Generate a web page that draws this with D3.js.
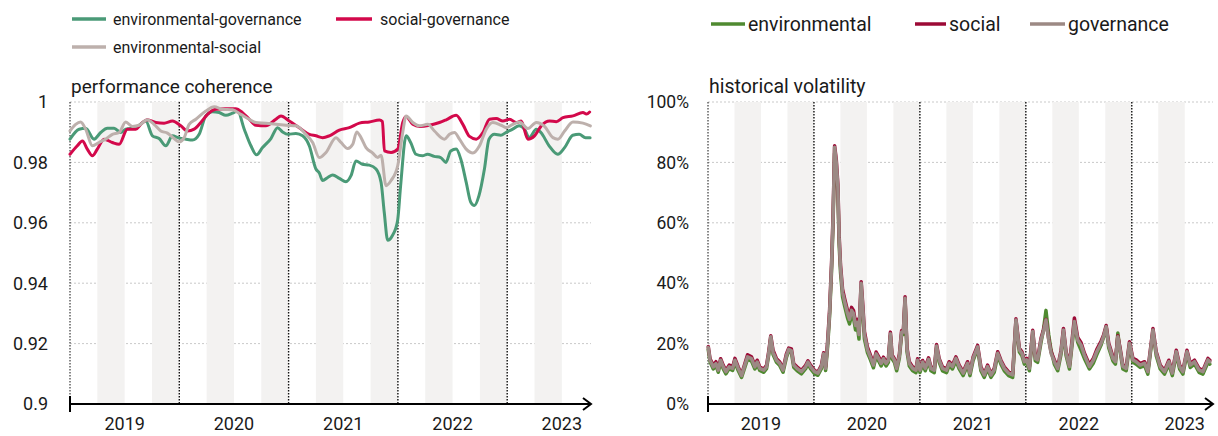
<!DOCTYPE html>
<html><head><meta charset="utf-8">
<script src="https://cdn.jsdelivr.net/npm/d3@7"></script>
<style>
body{margin:0;background:#fff;}
svg text{font-family:"Roboto","Liberation Sans",sans-serif;fill:#1a1a1a;}
</style>
</head><body>
<svg id="c" width="1218" height="436"></svg>
<script>
// ---------- DATA (time in months since Jan 2019) ----------
const yearLabels = ["2019","2020","2021","2022","2023"];
const yearStarts = [0, 12, 24, 36, 48];
const shadedBands = [[3,6],[9,12],[15,18],[21,24],[27,30],[33,36],[39,42],[45,48],[51,54]];

const cohTicks = [0.9, 0.92, 0.94, 0.96, 0.98, 1];
const cohTickLabels = ["0.9","0.92","0.94","0.96","0.98","1"];
const volTicks = [0, 20, 40, 60, 80, 100];
const volTickLabels = ["0%","20%","40%","60%","80%","100%"];

const envGov = [[0,0.9877],[1.0,0.9910],[1.72,0.9913],[2.64,0.9877],[3.37,0.9899],[4.1,0.9913],[4.84,0.9913],[5.57,0.9899],[6.12,0.9910],[7.22,0.9915],[8.32,0.9937],[9.05,0.9888],[9.78,0.9879],[10.52,0.9855],[11.25,0.9888],[11.87,0.9882],[12.72,0.9877],[13.45,0.9874],[14.18,0.9893],[14.91,0.9954],[15.65,0.9968],[16.38,0.9965],[17.11,0.9956],[17.85,0.9963],[18.4,0.9970],[19.13,0.9910],[19.86,0.9855],[20.48,0.9825],[21.14,0.9849],[22.06,0.9879],[22.79,0.9915],[23.34,0.9901],[23.96,0.9893],[24.8,0.9896],[25.54,0.9888],[26.27,0.9855],[27.0,0.9778],[27.37,0.9765],[27.74,0.9740],[28.3,0.9750],[28.84,0.9758],[29.57,0.9747],[30.3,0.9736],[30.85,0.9756],[31.4,0.9805],[32.1,0.9794],[32.86,0.9791],[33.6,0.9778],[34.15,0.9734],[34.5,0.9635],[34.88,0.9542],[35.4,0.9558],[35.97,0.9608],[36.3,0.9723],[36.9,0.9888],[37.4,0.9866],[37.98,0.9827],[38.7,0.9822],[39.25,0.9827],[39.98,0.9820],[40.7,0.9816],[41.27,0.9800],[41.8,0.9838],[42.4,0.9844],[42.9,0.9811],[43.5,0.9734],[44.0,0.9668],[44.4,0.9657],[44.9,0.9690],[45.5,0.9778],[46.0,0.9877],[46.6,0.9893],[47.3,0.9890],[47.86,0.9899],[48.6,0.9910],[49.3,0.9921],[49.9,0.9910],[50.4,0.9882],[51.2,0.9910],[51.7,0.9899],[52.6,0.9855],[53.55,0.9827],[54.3,0.9849],[55.2,0.9890],[55.9,0.9893],[56.6,0.9882],[57.1,0.9882]];

const socGov = [[0,0.9827],[0.8,0.9855],[1.36,0.9871],[1.9,0.9844],[2.46,0.9822],[3.0,0.9844],[3.74,0.9877],[4.65,0.9866],[5.39,0.9860],[6.3,0.9910],[7.22,0.9910],[7.77,0.9926],[8.5,0.9941],[9.42,0.9932],[10.33,0.9930],[11.25,0.9937],[12.17,0.9921],[12.9,0.9904],[13.63,0.9910],[14.36,0.9932],[15.1,0.9959],[16.0,0.9976],[17.1,0.9978],[18.2,0.9978],[18.94,0.9965],[19.68,0.9943],[20.4,0.9923],[21.5,0.9921],[22.6,0.9943],[23.16,0.9954],[24.07,0.9937],[25.17,0.9915],[26.27,0.9893],[27.0,0.9888],[27.74,0.9882],[28.47,0.9888],[29.57,0.9907],[30.67,0.9915],[31.77,0.9930],[32.87,0.9934],[33.97,0.9940],[34.3,0.9935],[34.52,0.9838],[35.25,0.9833],[35.98,0.9844],[36.53,0.9932],[36.9,0.9952],[37.63,0.9926],[38.37,0.9919],[39.47,0.9923],[40.56,0.9932],[41.3,0.9941],[42.4,0.9956],[43.13,0.9926],[43.86,0.9886],[44.6,0.9877],[45.33,0.9899],[46.06,0.9943],[46.8,0.9945],[47.53,0.9937],[48.26,0.9943],[49.0,0.9932],[49.54,0.9937],[50.27,0.9877],[51.0,0.9888],[51.74,0.9921],[52.65,0.9937],[53.39,0.9935],[54.12,0.9948],[55.22,0.9954],[56.32,0.9965],[56.7,0.9960],[57.05,0.9967]];

const envSoc = [[0,0.9904],[0.62,0.9926],[1.17,0.9934],[1.72,0.9910],[2.46,0.9855],[3.19,0.9866],[3.92,0.9877],[4.65,0.9893],[5.39,0.9899],[6.12,0.9934],[6.85,0.9919],[7.59,0.9923],[8.5,0.9941],[9.23,0.9926],[9.97,0.9904],[10.7,0.9897],[11.43,0.9879],[11.98,0.9868],[12.53,0.9882],[13.08,0.9926],[13.82,0.9943],[14.91,0.9970],[15.83,0.9984],[16.75,0.9976],[17.85,0.9974],[18.76,0.9959],[19.68,0.9943],[20.41,0.9932],[21.51,0.9930],[22.61,0.9926],[23.71,0.9923],[24.8,0.9921],[25.9,0.9893],[26.64,0.9866],[27.37,0.9816],[28.1,0.9833],[29.2,0.9882],[29.75,0.9866],[30.49,0.9846],[31.04,0.9860],[31.48,0.9901],[31.95,0.9882],[32.5,0.9849],[33.24,0.9831],[33.79,0.9816],[34.15,0.9824],[34.7,0.9723],[35.25,0.9740],[35.98,0.9789],[36.53,0.9899],[36.9,0.9954],[37.63,0.9932],[38.37,0.9921],[39.28,0.9926],[40.01,0.9904],[41.11,0.9877],[41.66,0.9893],[42.21,0.9899],[42.76,0.9877],[43.5,0.9844],[44.23,0.9831],[44.96,0.9855],[45.7,0.9910],[46.43,0.9932],[47.34,0.9923],[47.89,0.9915],[48.62,0.9926],[49.36,0.9934],[50.27,0.9912],[51.19,0.9932],[52.1,0.9919],[53.02,0.9882],[53.57,0.9877],[54.3,0.9904],[55.22,0.9934],[56.32,0.9930],[57.13,0.9921]];

const volMonths = [0.03,0.23,0.6,0.9,1.16,1.43,1.73,2.03,2.4,2.79,3.05,3.42,3.8,4.18,4.48,4.93,5.31,5.57,5.87,6.32,6.63,6.89,7.11,7.37,7.76,8.13,8.5,8.88,9.14,9.45,9.71,10.08,10.58,11.06,11.32,11.63,12.08,12.45,12.84,13.1,13.32,13.55,13.77,14.0,14.17,14.34,14.53,14.71,14.85,15.01,15.24,15.47,15.8,16.03,16.26,16.48,16.71,16.93,17.1,17.35,17.53,17.72,18.06,18.4,18.74,19.04,19.34,19.61,19.87,20.17,20.43,20.66,20.85,21.11,21.37,21.68,21.93,22.13,22.32,22.54,22.8,23.18,23.56,23.74,24.01,24.31,24.61,24.98,25.25,25.63,25.89,26.19,26.56,27.02,27.32,27.69,28.08,28.45,28.9,29.4,29.67,30.03,30.54,30.91,31.29,31.67,32.05,32.42,32.81,33.18,33.56,34.05,34.51,34.88,35.27,35.56,35.83,36.09,36.4,36.78,37.07,37.34,37.72,37.99,38.28,38.59,38.86,39.23,39.61,39.99,40.26,40.56,40.94,41.5,41.88,42.26,42.64,43.2,43.66,44.03,44.52,44.8,45.1,45.39,45.86,46.15,46.42,46.68,46.99,47.37,47.74,48.13,48.5,48.95,49.45,49.82,50.4,50.77,51.22,51.71,52.2,52.59,53.04,53.42,53.79,54.25,54.63,55.11,55.61,56.06,56.63,56.84];

const volGov = [18.7,14.5,12.3,13.4,11.2,14.5,12.3,10.7,12.3,11.8,14.5,11.8,9.4,12.9,15.6,15.0,12.3,13.9,11.8,11.2,12.3,17.1,22.3,17.1,14.5,13.4,11.2,16.0,18.1,17.6,12.9,11.8,10.7,12.3,13.9,12.3,10.7,10.2,12.3,16.6,11.8,20,30,46,62,85,80,72,55,45,37,34,30,28,31,30,26,27,23,40,32,23,18,15.5,12.9,16.6,15.0,13.4,15.0,13.4,14.5,23.3,15.8,14.5,11.8,16.0,23.8,23.8,35,18.1,13.4,11.8,11.2,14.5,11.2,13.9,11.8,14.8,11.8,11.2,19.2,14.5,11.8,11.2,13.5,12.4,15.1,12.4,10.2,13.5,10.2,15.1,18.9,11.8,9.6,12.4,9.6,11.3,16.8,14.0,11.8,10.2,9.6,27.8,17.9,16.8,14.0,14.6,11.8,24.0,15.1,14.6,21.2,24.0,27.8,21.2,16.8,14.0,11.8,17.3,24.5,16.8,12.4,27.3,21.2,19.5,16.2,12.4,14.6,17.3,20.1,22.3,25.6,19.5,15.1,14.0,22.3,17.9,12.4,11.8,20.1,14.6,14.0,12.9,13.5,10.7,24.5,16.8,12.4,10.7,14.0,10.2,17.3,12.4,10.7,17.3,12.9,14.0,11.3,10.7,14.6,14.0];

const volEnv = [18.0,14.0,11.6,12.8,10.5,13.8,11.6,10.0,11.7,11.1,13.8,11.1,8.8,12.2,14.9,14.2,11.6,13.2,11.1,10.5,11.7,16.5,21.8,16.4,13.8,12.7,10.5,15.4,17.5,17.0,12.2,11.1,10.0,11.7,13.3,11.6,10.0,9.5,11.7,16.0,11.1,19,29,44.5,60,83,78,70,53,43.5,35.5,32.5,28.5,26.5,29.5,28.5,24.5,25.5,21.5,38.5,30.5,21.5,17,14.6,12.0,15.8,14.2,12.6,14.3,12.6,13.8,22.6,15.0,13.8,11.0,15.3,23.0,23.0,34.3,17.3,12.6,11.0,10.4,13.8,10.4,13.2,11.0,14.1,11.0,10.4,18.6,13.8,11.0,10.4,12.8,11.6,14.4,11.6,9.4,12.8,9.4,14.4,18.3,11.0,8.8,11.6,8.8,10.5,16.1,13.2,11.0,9.4,8.8,27.2,17.2,16.0,13.2,13.8,11.0,23.2,14.3,13.8,20.4,24.5,31.0,23.0,17.8,13.2,11.0,16.5,23.8,16.0,11.6,26.6,20.4,17.8,15.0,11.6,13.6,16.3,19.5,22.0,25.4,18.6,14.3,13.2,23.5,17.4,11.6,11.0,19.4,13.8,13.2,12.1,12.7,9.9,23.8,16.0,11.6,9.9,13.2,9.4,16.6,11.6,9.9,16.6,12.1,13.2,10.5,9.9,13.8,13.2];

const volSoc = [19.0,15.0,12.8,14.0,11.6,15.0,12.8,11.1,12.9,12.3,15.1,12.3,9.8,13.4,16.3,15.6,12.8,14.5,12.2,11.6,12.8,17.6,22.6,17.8,15.0,13.9,11.6,16.6,18.5,18.2,13.3,12.3,11.1,12.8,14.3,12.8,11.1,10.6,12.8,17.0,12.3,20.8,31,47,63,85.5,81,73,56,46,38,35,31,29,32,31,27,28,24,40.5,33,24,18.8,16.2,13.5,17.2,15.6,14.0,15.5,14.0,15.0,23.8,16.3,15.0,12.3,16.5,24.3,24.3,35.5,18.6,14.0,12.3,11.6,15.0,11.6,14.4,12.3,15.3,12.3,11.6,19.7,15.0,12.3,11.6,14.0,12.9,15.6,12.9,10.6,14.0,10.6,15.6,19.4,12.3,10.0,12.9,10.0,11.8,17.3,14.5,12.3,10.6,10.0,28.2,18.4,17.3,14.5,15.1,12.3,24.4,15.8,15.1,21.8,24.5,28.0,21.5,17.3,14.6,12.3,17.8,25.0,17.3,12.9,28.5,22.0,20.3,16.8,13.0,15.2,18.0,20.8,22.8,26.0,20.1,15.7,14.6,22.6,18.4,12.9,12.3,20.6,15.1,14.6,13.4,14.0,11.1,25.0,17.3,12.9,11.1,14.5,10.6,17.8,12.9,11.1,17.8,13.4,14.5,11.8,11.1,15.1,14.5];

// ---------- DRAW ----------
const svg = d3.select("#c");
const monthDomain = [0, 57.2];

function panel(opt){
  const g = svg.append("g");
  const x = d3.scaleLinear().domain(monthDomain).range([opt.x0, opt.x1]);
  const y = d3.scaleLinear().domain(opt.yDomain).range([404, 102]);
  const yTop = y(opt.yDomain[1]), yBot = y(opt.yDomain[0]);

  g.selectAll(".grid").data(opt.ticks.slice(1)).join("line")
    .attr("x1", opt.x0).attr("x2", x(monthDomain[1]))
    .attr("y1", d=>y(d)).attr("y2", d=>y(d))
    .attr("stroke","#c9c9c9").attr("stroke-width",1).attr("stroke-dasharray","2,2");
  g.selectAll(".band").data(shadedBands).join("rect")
    .attr("x", d=>x(d[0])).attr("width", d=>x(d[1])-x(d[0]))
    .attr("y", yTop).attr("height", yBot-yTop).attr("fill","#f3f2f1");
  g.selectAll(".sep").data(yearStarts).join("line")
    .attr("x1", d=>x(d)).attr("x2", d=>x(d)).attr("y1", yTop).attr("y2", yBot)
    .attr("stroke","#111").attr("stroke-width", d=>d===0?1:1.4).attr("stroke-dasharray", "1.5,1.5");

  g.selectAll(".yl").data(opt.ticks).join("text")
    .attr("x", opt.labelX).attr("y", d=>y(d)).attr("dy","0.35em")
    .attr("text-anchor","end").attr("font-size", opt.tickSize)
    .text((d,i)=>opt.tickLabels[i]);

  g.append("text").attr("x", opt.x0+1).attr("y", 93).attr("font-size", opt.titleSize).text(opt.title);

  opt.series.forEach(s=>{
    const line = d3.line().x(d=>x(d[0])).y(d=>y(d[1])).curve(opt.curve);
    g.append("path").datum(s.data).attr("d", line).attr("fill","none")
      .attr("stroke", s.color).attr("stroke-width", s.width)
      .attr("stroke-linejoin","round").attr("stroke-linecap","round");
  });

  const ax = g.append("g");
  const xEnd = x(monthDomain[1]);
  ax.append("line").attr("x1", opt.x0).attr("x2", xEnd).attr("y1", 404).attr("y2", 404)
    .attr("stroke","#000").attr("stroke-width",2);
  ax.append("line").attr("x1", opt.x0).attr("x2", opt.x0).attr("y1", 396).attr("y2", 412)
    .attr("stroke","#000").attr("stroke-width",2);
  ax.append("path").attr("d", `M${xEnd-8},${398}L${xEnd},${404}L${xEnd-8},${410}`)
    .attr("fill","none").attr("stroke","#000").attr("stroke-width",2);
  ax.selectAll(".xl").data(yearLabels).join("text")
    .attr("x", (d,i)=>x(yearStarts[i]+6)).attr("y", 430)
    .attr("text-anchor","middle").attr("font-size", 18).text(d=>d);

  opt.legend.forEach(l=>{
    svg.append("line").attr("x1", l.x).attr("x2", l.x+l.len).attr("y1", l.y).attr("y2", l.y)
      .attr("stroke", l.color).attr("stroke-width", 3.5);
    svg.append("text").attr("x", l.x+l.len+l.gap).attr("y", l.y).attr("dy","0.35em")
      .attr("font-size", opt.legendSize).text(l.label);
  });
}

panel({
  x0: 70, x1: 591, yDomain: [0.9, 1.0], ticks: cohTicks, tickLabels: cohTickLabels, labelX: 48,
  tickSize: 18, titleSize: 19, legendSize: 16, curve: d3.curveMonotoneX,
  title: "performance coherence",
  series: [
    {data: envGov, color: "#4a9a77", width: 3},
    {data: socGov, color: "#d3094b", width: 3},
    {data: envSoc, color: "#bdb0ac", width: 3}
  ],
  legend: [
    {x: 72, y: 19, len: 34, gap: 7, color: "#4a9a77", label: "environmental-governance"},
    {x: 336, y: 19, len: 36, gap: 8, color: "#d3094b", label: "social-governance"},
    {x: 72, y: 47, len: 34, gap: 7, color: "#bdb0ac", label: "environmental-social"}
  ]
});

const volSeries = arr => volMonths.map((m,i)=>[m, arr[i]]);
panel({
  x0: 708, x1: 1213, yDomain: [0, 100], ticks: volTicks, tickLabels: volTickLabels, labelX: 689,
  tickSize: 17.5, titleSize: 19.5, legendSize: 19.5, curve: d3.curveLinear,
  title: "historical volatility",
  series: [
    {data: volSeries(volEnv), color: "#4f8a30", width: 3.5},
    {data: volSeries(volSoc), color: "#9c0a36", width: 3.5},
    {data: volSeries(volGov), color: "#9c8984", width: 3.5}
  ],
  legend: [
    {x: 711, y: 24, len: 34, gap: 3, color: "#4f8a30", label: "environmental"},
    {x: 915, y: 24, len: 31, gap: 3, color: "#9c0a36", label: "social"},
    {x: 1030, y: 24, len: 35, gap: 3, color: "#9c8984", label: "governance"}
  ]
});
</script>
</body></html>
